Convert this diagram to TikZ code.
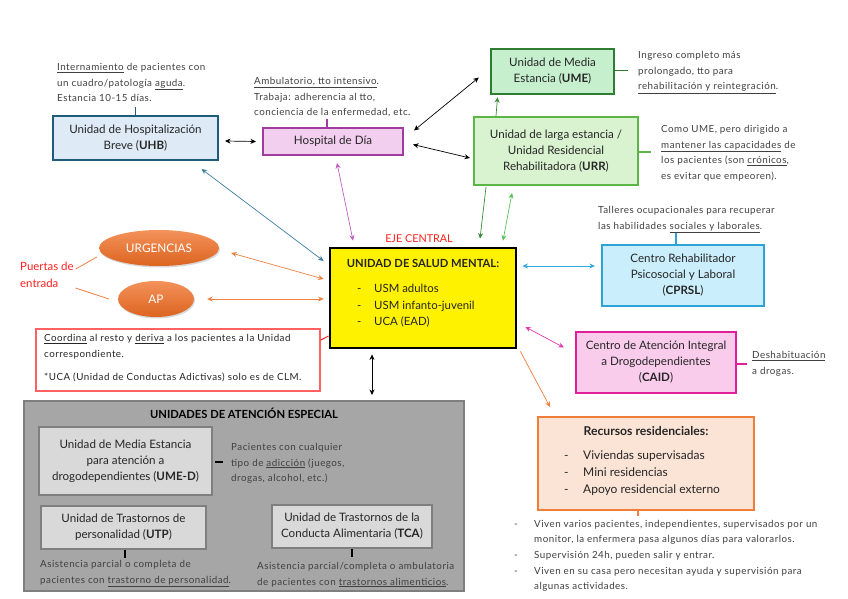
\documentclass[tikz,border=0pt]{standalone}
\usepackage{fontspec}
\setmainfont{Lato}
\usetikzlibrary{arrows.meta,calc,shapes.geometric,shadows}
\definecolor{txt}{HTML}{262626}
\definecolor{anntxt}{HTML}{404040}
\definecolor{uhbfill}{HTML}{DEEBF7}
\definecolor{uhbdraw}{HTML}{1F5C7A}
\definecolor{uhbarr}{HTML}{3C7FA0}
\definecolor{hddfill}{HTML}{F2CEEF}
\definecolor{hdddraw}{HTML}{A03CA0}
\definecolor{hddarr}{HTML}{C060C0}
\definecolor{umefill}{HTML}{C6EFCE}
\definecolor{umedraw}{HTML}{2E7D32}
\definecolor{urrfill}{HTML}{D9F2D0}
\definecolor{urrdraw}{HTML}{5CB547}
\definecolor{dgarr}{HTML}{3A8A3A}
\definecolor{lgarr}{HTML}{5CC05C}
\definecolor{cprslfill}{HTML}{CAEEFB}
\definecolor{cprsldraw}{HTML}{2EA3D6}
\definecolor{cprslarr}{HTML}{30A8E0}
\definecolor{caidfill}{HTML}{F9CCEC}
\definecolor{caiddraw}{HTML}{E0209A}
\definecolor{caidarr}{HTML}{E03CB0}
\definecolor{recfill}{HTML}{FBE3D6}
\definecolor{recdraw}{HTML}{F07E3A}
\definecolor{orarr}{HTML}{EE8040}
\definecolor{greyfill}{HTML}{A6A6A6}
\definecolor{greydraw}{HTML}{7F7F7F}
\definecolor{ltgrey}{HTML}{D9D9D9}
\definecolor{redbox}{HTML}{FF6060}
\definecolor{redtxt}{HTML}{FF2020}
\definecolor{ortop}{HTML}{F3925A}
\definecolor{orbot}{HTML}{DC6420}
\begin{document}
\begin{tikzpicture}[x=1pt,y=-1pt,
  box/.style={draw, line width=2pt, align=center, text=txt, inner sep=0pt,
    font=\fontsize{11.6}{16}\selectfont},
  ann/.style={anchor=north west, align=left, text=anntxt, inner sep=0pt,
    font=\fontsize{9.8}{15.6}\selectfont\addfontfeature{LetterSpace=5}},
  dbl/.style={{Stealth[length=5.5pt,width=5pt]}-{Stealth[length=5.5pt,width=5pt]}, line width=0.7pt},
  one/.style={-{Stealth[length=5.5pt,width=5pt]}, line width=0.7pt},
  tick/.style={line width=1.2pt},
  oval/.style={ellipse, top color=ortop, bottom color=orbot, draw=none, text=white,
    font=\fontsize{11.8}{12}\selectfont, inner sep=0pt,
    drop shadow={shadow xshift=1pt, shadow yshift=-1.5pt, opacity=0.3}},
]
\useasboundingbox[fill=white] (0,0) rectangle (848,599);

% ---------------- boxes ----------------
\node[box, draw=uhbdraw, fill=uhbfill, minimum width=165, minimum height=44] (uhb) at (135.5,138)
  {Unidad de Hospitalización\\Breve (\textbf{UHB})};
\node[box, draw=hdddraw, fill=hddfill, minimum width=140, minimum height=27] (hdd) at (333,141.5)
  {Hospital de Día};
\node[box, draw=umedraw, fill=umefill, line width=2.5pt, minimum width=123, minimum height=45] (ume) at (552.5,71.5)
  {Unidad de Media\\Estancia (\textbf{UME})};
\node[box, draw=urrdraw, fill=urrfill, minimum width=164, minimum height=68] (urr) at (556,151)
  {Unidad de larga estancia /\\Unidad Residencial\\Rehabilitadora (\textbf{URR})};
\node[box, draw=black, fill=yellow, line width=2.8pt, minimum width=186, minimum height=100] (usm) at (423,298) {};
\node[text=txt, font=\fontsize{11.2}{16}\selectfont\bfseries, inner sep=0pt] (usmt) at (423,263) {UNIDAD DE SALUD MENTAL:};
\node[anchor=north west, inner sep=0pt, text=txt, font=\fontsize{11.4}{16.5}\selectfont] (usml) at (357,281)
  {\begin{tabular}{@{}p{17pt}@{}l@{}}-&USM adultos\\-&USM infanto-juvenil\\-&UCA (EAD)\end{tabular}};
\node[text=redtxt, font=\fontsize{10.8}{12}\selectfont, inner sep=0pt] (eje) at (419,239) {EJE CENTRAL};

\node[box, draw=cprsldraw, fill=cprslfill, line width=2.2pt, minimum width=162, minimum height=61] (cprsl) at (683,275.5)
  {Centro Rehabilitador\\Psicosocial y Laboral\\(\textbf{CPRSL})};
\node[box, draw=caiddraw, fill=caidfill, line width=2.2pt, minimum width=160, minimum height=61] (caid) at (656,362.5)
  {Centro de Atención Integral\\a Drogodependientes\\(\textbf{CAID})};
\node[box, draw=recdraw, fill=recfill, minimum width=216, minimum height=93] (rec) at (646,463.5) {};
\node[text=txt, font=\fontsize{12.2}{16}\selectfont\bfseries, inner sep=0pt] (rect) at (646,431) {Recursos residenciales:};
\node[anchor=north west, inner sep=0pt, text=txt, font=\fontsize{12}{17}\selectfont] (recl) at (564,447)
  {\begin{tabular}{@{}p{19pt}@{}l@{}}-&Viviendas supervisadas\\-&Mini residencias\\-&Apoyo residencial externo\end{tabular}};

% grey group
\node[draw=greydraw, fill=greyfill, line width=2pt, minimum width=440, minimum height=190, inner sep=0pt] (esp) at (244,496) {};
\node[text=black, font=\fontsize{11.2}{12}\selectfont\bfseries, inner sep=0pt] (espt) at (244,413) {UNIDADES DE ATENCIÓN ESPECIAL};
\node[box, draw=greydraw, fill=ltgrey, line width=1.5pt, minimum width=173, minimum height=68] (umed) at (125.5,461)
  {Unidad de Media Estancia\\para atención a\\drogodependientes (\textbf{UME-D})};
\node[box, draw=greydraw, fill=ltgrey, line width=1.5pt, minimum width=165, minimum height=43] (utp) at (123.5,527.5)
  {Unidad de Trastornos de\\personalidad (\textbf{UTP})};
\node[box, draw=greydraw, fill=ltgrey, line width=1.5pt, minimum width=160, minimum height=43] (tca) at (352,526.5)
  {Unidad de Trastornos de la\\Conducta Alimentaria (\textbf{TCA})};

% ellipses
\node[oval, minimum width=120, minimum height=36] (urg) at (159,248) {URGENCIAS};
\node[oval, minimum width=76, minimum height=36] (ap) at (156,299) {AP};
\node[anchor=north west, align=left, text=redtxt, inner sep=0pt, font=\fontsize{11.4}{17}\selectfont] (puertas) at (20,262) {Puertas de\\entrada};

% red box
\node[draw=redbox, line width=1.3pt, minimum width=284, minimum height=62, inner sep=0pt] (red) at (178,360) {};
\node[ann, text=txt] (redt) at (44,334)
  {\underline{Coordina} al resto y \underline{deriva} a los pacientes a la Unidad\\correspondiente.\\[8pt]*UCA (Unidad de Conductas Adictivas) solo es de CLM.};

% ---------------- annotations ----------------
\node[ann] (uhba) at (57,63)
  {\underline{Internamiento} de pacientes con\\un cuadro/patología \underline{aguda}.\\Estancia 10-15 días.};
\node[ann] (hdda) at (254,77)
  {\underline{Ambulatorio, tto intensivo}.\\Trabaja: adherencia al tto,\\conciencia de la enfermedad, etc.};
\node[ann] (umea) at (638,51)
  {Ingreso completo más\\prolongado, tto para\\\underline{rehabilitación y reintegración}.};
\node[ann] (urra) at (661,125)
  {Como UME, pero dirigido a\\\underline{mantener las capacidades} de\\los pacientes (son \underline{crónicos},\\es evitar que empeoren).};
\node[ann] (cprsla) at (598,206)
  {Talleres ocupacionales para recuperar\\las habilidades \underline{sociales y laborales}.};
\node[ann] (caida) at (752,351)
  {\underline{Deshabituación}\\a drogas.};
\node[ann] (umeda) at (231,443)
  {Pacientes con cualquier\\tipo de \underline{adicción} (juegos,\\drogas, alcohol, etc.)};
\node[ann] (utpa) at (40,560)
  {Asistencia parcial o completa de\\pacientes con \underline{trastorno de personalidad}.};
\node[ann] (tcaa) at (257,562)
  {Asistencia parcial/completa o ambulatoria\\de pacientes con \underline{trastornos alimenticios}.};
\node[ann, font=\fontsize{9.8}{15.7}\selectfont\addfontfeature{LetterSpace=5}] (reca) at (514,516)
  {\begin{tabular}{@{}p{20pt}@{}l@{}}-&Viven varios pacientes, independientes, supervisados por un\\&monitor, la enfermera pasa algunos días para valorarlos.\\-&Supervisión 24h, pueden salir y entrar.\\-&Viven en su casa pero necesitan ayuda y supervisión para\\&algunas actividades.\end{tabular}};

% ---------------- small ticks (annotation connectors) ----------------
\draw[tick, uhbdraw] (uhb.north) -- ++(0,-8);
\draw[tick, hdddraw] ($(hdd.north)+(-6,0)$) -- ++(0,-8);
\draw[tick, umedraw] ($(ume.east)+(0,-1)$) -- ++(13,0);
\draw[tick, urrdraw] ($(urr.east)+(0,1)$) -- ++(12,0);
\draw[tick, cprsldraw] ($(cprsl.north)+(-7,0)$) -- ++(0,-11);
\draw[tick, caiddraw] ($(caid.east)+(0,1.5)$) -- ++(10,0);
\draw[tick, black] ($(umed.east)+(2,1)$) -- ++(8,0);
\draw[tick, black] ($(utp.south)+(1.5,0)$) -- ++(0,8);
\draw[tick, black] ($(tca.south)+(0,0)$) -- ++(0,8);
\draw[tick, recdraw] ($(rec.south)+(-8,0)$) -- ++(0,5);
\draw[line width=1pt, redtxt] ($(red.east)+(0,-20)$) -- ($(usm.west)+(0,38)$);
\draw[line width=0.8pt, orarr] ($(puertas.north east)+(2,7)$) -- ($(urg.west)+(-2,9)$);
\draw[line width=0.8pt, orarr] ($(puertas.north east)+(2,26)$) -- ($(ap.west)+(-9,0)$);

% ---------------- arrows ----------------
\draw[dbl, black] ($(uhb.east)+(6,3)$) -- ($(hdd.west)+(-6,0)$);
\draw[dbl, black] ($(hdd.east)+(10,-11)$) -- ($(ume.west)+(-11,6)$);
\draw[dbl, black] ($(hdd.east)+(9,3)$) -- ($(urr.west)+(-3,7)$);
\draw[one, dgarr] ($(urr.north)+(-60,0)$) -- ($(ume.south)+(-55,2)$);
\draw[dbl, uhbarr] ($(uhb.south)+(66,8)$) -- ($(usm.west)+(-5,-37)$);
\draw[dbl, hddarr] ($(hdd.south)+(4,7)$) -- ($(usm.north)+(-70,-6)$);
\draw[one, dgarr] ($(urr.south)+(-70,1)$) -- ($(usm.north)+(57,-8)$);
\draw[dbl, lgarr] ($(urr.south)+(-44,7)$) -- ($(usm.north)+(80,-6)$);
\draw[dbl, orarr] ($(urg.east)+(12,5)$) -- ($(usm.west)+(-5,-19)$);
\draw[dbl, orarr] ($(ap.east)+(13,0)$) -- ($(usm.west)+(-5,1)$);
\draw[dbl, black] ($(usm.south)+(-51,5)$) -- ($(esp.north)+(128,-5)$);
\draw[dbl, cprslarr] ($(usm.east)+(5,-32)$) -- ($(cprsl.west)+(-6,-9.5)$);
\draw[dbl, caidarr] ($(usm.east)+(8,29)$) -- ($(caid.west)+(-11,-15)$);
\draw[one, orarr] ($(usm.south east)+(3,2)$) -- ($(rec.north west)+(13,-9)$);
\end{tikzpicture}
\end{document}
